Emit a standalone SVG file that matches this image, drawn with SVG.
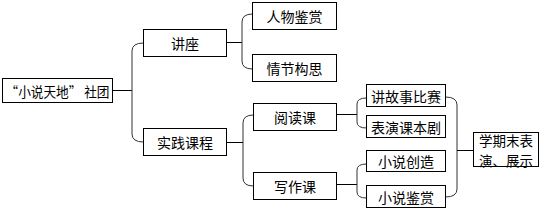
<svg xmlns="http://www.w3.org/2000/svg" width="545" height="210" viewBox="0 0 545 210">
<style>
.box{fill:#fff;stroke:#000;stroke-width:1}
.t{font-family:"Noto Sans CJK SC","Liberation Sans",sans-serif;font-size:14px;fill:#000;text-anchor:middle;dominant-baseline:central}
.ln{fill:none;stroke:#000;stroke-width:1}
.br{fill:none;stroke:#333;stroke-width:1}
</style>
<rect width="545" height="210" fill="#fff"/>
<g id="connectors">
<path class="ln" d="M112.5,90.5H132"/>
<path class="br" d="M143.5,43 Q132,43 132,51 V134 Q132,142 143.5,142"/>
<path class="ln" d="M226.5,42.5H242"/>
<path class="br" d="M252.5,14 Q242,14 242,22 V61 Q242,69 252.5,69"/>
<path class="ln" d="M226.5,142.5H243"/>
<path class="br" d="M253.5,115 Q243,115 243,123 V178 Q243,186 253.5,186"/>
<path class="ln" d="M336.5,114.5H357"/>
<path class="br" d="M366.5,98 Q357,98 357,104 V122 Q357,128 366.5,128"/>
<path class="ln" d="M336.5,184.5H357"/>
<path class="br" d="M366.5,164 Q357,164 357,170 V192 Q357,198 366.5,198"/>
<path class="br" d="M445.5,97 Q457,97 457,105 V189 Q457,197 445.5,197"/>
<path class="ln" d="M457,150.5H473.5"/>
</g>
<g id="root"><rect class="box" x="2.5" y="78.5" width="110" height="24"/><text class="t" x="57.5" y="90.5" textLength="104" lengthAdjust="spacingAndGlyphs">“小说天地” 社团</text></g>
<g id="jiangzuo"><rect class="box" x="143.5" y="29.5" width="83" height="27"/><text class="t" x="185" y="43">讲座</text></g>
<g id="shijian"><rect class="box" x="143.5" y="128.5" width="83" height="27"/><text class="t" x="185" y="142">实践课程</text></g>
<g id="renwu"><rect class="box" x="252.5" y="2.5" width="84" height="27"/><text class="t" x="294.5" y="16">人物鉴赏</text></g>
<g id="qingjie"><rect class="box" x="252.5" y="54.5" width="84" height="27"/><text class="t" x="294.5" y="68">情节构思</text></g>
<g id="yuedu"><rect class="box" x="253.5" y="103.5" width="83" height="27"/><text class="t" x="295" y="117">阅读课</text></g>
<g id="xiezuo"><rect class="box" x="253.5" y="172.5" width="83" height="27"/><text class="t" x="295" y="186">写作课</text></g>
<g id="jianggushi"><rect class="box" x="366.5" y="84.5" width="79" height="22"/><text class="t" x="406" y="95.5">讲故事比赛</text></g>
<g id="biaoyan"><rect class="box" x="366.5" y="115.5" width="79" height="22"/><text class="t" x="406" y="126.5">表演课本剧</text></g>
<g id="chuangzao"><rect class="box" x="366.5" y="150.5" width="79" height="21"/><text class="t" x="406" y="161">小说创造</text></g>
<g id="jianshang"><rect class="box" x="366.5" y="185.5" width="79" height="22"/><text class="t" x="406" y="196.5">小说鉴赏</text></g>
<g id="zhanshi"><rect class="box" x="473.5" y="132.5" width="65" height="34"/><text class="t" style="font-size:13.5px" x="506" y="140.2">学期末表</text><text class="t" style="font-size:13.5px" x="506" y="159.8">演、展示</text></g>
</svg>
